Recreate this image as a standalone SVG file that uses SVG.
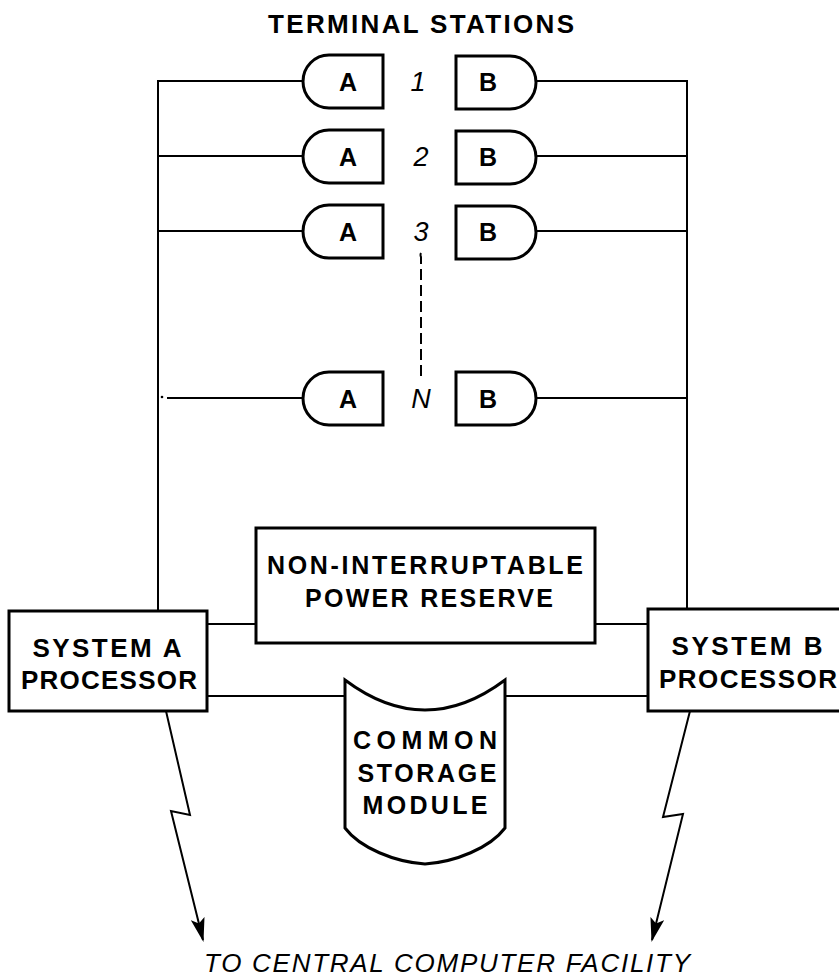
<svg xmlns="http://www.w3.org/2000/svg" width="839" height="977" viewBox="0 0 839 977">
<style>
.ln{fill:none;stroke:#000;stroke-width:2}
.bx{fill:#fff;stroke:#000;stroke-width:3}
.t{font-family:"Liberation Sans",Arial,sans-serif;font-weight:bold;fill:#000;text-anchor:middle}
.it{font-family:"Liberation Sans",Arial,sans-serif;font-style:italic;fill:#000;text-anchor:middle}
</style>
<defs>
<marker id="ah" markerWidth="24" markerHeight="14" refX="22" refY="7" orient="auto" markerUnits="userSpaceOnUse" viewBox="0 0 24 14">
<path d="M0,0 L24,7 L0,14 L5,7 Z" fill="#000"/>
</marker>
</defs>
<rect width="839" height="977" fill="#fff"/>
<text class="t" x="421" y="33" font-size="26" textLength="306" lengthAdjust="spacing">TERMINAL STATIONS</text>

<g id="connectors">
<path class="ln" d="M158,611 V81 H303"/>
<path class="ln" d="M158,156 H303"/>
<path class="ln" d="M158,231 H303"/>
<path class="ln" d="M167,398 H303"/>
<circle cx="162" cy="397" r="1.3" fill="#000"/>
<path class="ln" d="M687,609 V81 H536"/>
<path class="ln" d="M687,156 H536"/>
<path class="ln" d="M687,231 H536"/>
<path class="ln" d="M687,398 H536"/>
<path class="ln" d="M421,253 q-1,2 0,4 V377" stroke-dasharray="11,5"/>
<path class="ln" d="M207,624 H256"/>
<path class="ln" d="M595,624 H648"/>
<path class="ln" d="M207,696 H345"/>
<path class="ln" d="M505,696 H648"/>
<path class="ln" d="M166,711 L190,815 L171,811 L203,940" marker-end="url(#ah)"/>
<path class="ln" d="M690,711 L663,817 L683,814 L652,940" marker-end="url(#ah)"/>
</g>

<g id="term1">
<path class="bx" d="M383,55 H329 A26,26.5 0 0 0 329,108 H383 Z"/>
<text class="t" x="348" y="91" font-size="25">A</text>
<text class="it" x="418" y="91" font-size="27">1</text>
<path class="bx" d="M456,56 H510 A26,26.5 0 0 1 510,109 H456 Z"/>
<text class="t" x="488" y="91" font-size="25">B</text>
</g>
<g id="term2">
<path class="bx" d="M383,130 H329 A26,26.5 0 0 0 329,183 H383 Z"/>
<text class="t" x="348" y="166" font-size="25">A</text>
<text class="it" x="421" y="166" font-size="27">2</text>
<path class="bx" d="M456,131 H510 A26,26.5 0 0 1 510,184 H456 Z"/>
<text class="t" x="488" y="166" font-size="25">B</text>
</g>
<g id="term3">
<path class="bx" d="M383,205 H329 A26,26.5 0 0 0 329,258 H383 Z"/>
<text class="t" x="348" y="241" font-size="25">A</text>
<text class="it" x="421" y="241" font-size="27">3</text>
<path class="bx" d="M456,206 H510 A26,26.5 0 0 1 510,259 H456 Z"/>
<text class="t" x="488" y="241" font-size="25">B</text>
</g>
<g id="termN">
<path class="bx" d="M383,372 H329 A26,26.5 0 0 0 329,425 H383 Z"/>
<text class="t" x="348" y="408" font-size="25">A</text>
<text class="it" x="421" y="408" font-size="27">N</text>
<path class="bx" d="M456,372 H510 A26,26.5 0 0 1 510,425 H456 Z"/>
<text class="t" x="488" y="408" font-size="25">B</text>
</g>

<g id="power">
<rect class="bx" x="256" y="528" width="339" height="115"/>
<text class="t" x="425" y="574" font-size="25" textLength="316" lengthAdjust="spacing">NON-INTERRUPTABLE</text>
<text class="t" x="429" y="607" font-size="25" textLength="248" lengthAdjust="spacing">POWER RESERVE</text>
</g>

<g id="procA">
<rect class="bx" x="9" y="611" width="198" height="100"/>
<text class="t" x="107" y="657" font-size="26" textLength="149" lengthAdjust="spacing">SYSTEM A</text>
<text class="t" x="109" y="689" font-size="26" textLength="176" lengthAdjust="spacing">PROCESSOR</text>
</g>

<g id="procB">
<rect class="bx" x="648" y="609" width="200" height="102"/>
<text class="t" x="747" y="655" font-size="26" textLength="151" lengthAdjust="spacing">SYSTEM B</text>
<text class="t" x="748" y="688" font-size="26" textLength="178" lengthAdjust="spacing">PROCESSOR</text>
</g>

<g id="storage">
<path class="bx" d="M345,680 Q425,740 505,680 V828 C490,848 455,862 425,864 C395,862 360,848 345,828 Z"/>
<text class="t" x="425" y="749" font-size="25" textLength="144" lengthAdjust="spacing">COMMON</text>
<text class="t" x="427" y="782" font-size="25" textLength="139" lengthAdjust="spacing">STORAGE</text>
<text class="t" x="425" y="814" font-size="25" textLength="125" lengthAdjust="spacing">MODULE</text>
</g>

<text class="it" x="447" y="972" font-size="26" textLength="486" lengthAdjust="spacing">TO CENTRAL COMPUTER FACILITY</text>
</svg>
